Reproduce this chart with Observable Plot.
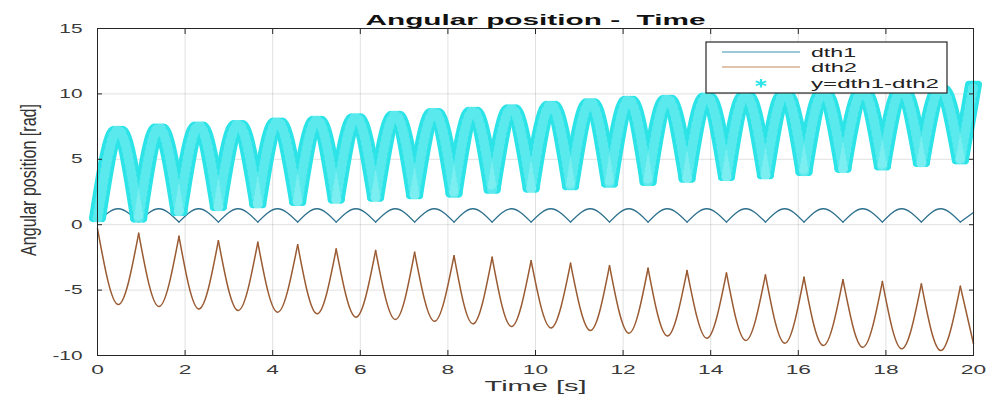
<!DOCTYPE html>
<html><head><meta charset="utf-8">
<script src="https://cdn.jsdelivr.net/npm/d3@7"></script>
<script src="https://cdn.jsdelivr.net/npm/@observablehq/plot@0.6"></script>
<style>html,body{margin:0;padding:0;background:#fff;} #chart svg{display:block}</style>
</head><body><div id="chart"></div>
<script>
// ---- data ----
const titleText = "Angular position -  Time";
const xLabelText = "Time [s]";
const yLabelText = "Angular position [rad]";
const seriesNames = ["dth1", "dth2", "y=dth1-dth2"];
const xTicks = [0, 2, 4, 6, 8, 10, 12, 14, 16, 18, 20];
const yTicks = [-10, -5, 0, 5, 10, 15];

// times of the cusps (dth2 peaks / dth1 minima) and of the mid-cycle extrema
const cuspT = [0, 0.94, 1.86, 2.76, 3.66, 4.57, 5.45, 6.35, 7.24, 8.14, 9.01, 9.90, 10.80, 11.69, 12.57, 13.46, 14.36, 15.25, 16.13, 17.02, 17.92, 18.81, 19.70];
const midT = [0.47, 1.40, 2.31, 3.21, 4.11, 5.01, 5.90, 6.80, 7.69, 8.57, 9.45, 10.35, 11.25, 12.13, 13.01, 13.91, 14.80, 15.69, 16.57, 17.47, 18.36, 19.25];
const tEnd = 20;

// dth1: values at cusps and at arc tops
const dth1Cusp = [0.2, 0.2, 0.2, 0.2, 0.2, 0.2, 0.2, 0.2, 0.2, 0.2, 0.2, 0.2, 0.2, 0.2, 0.2, 0.2, 0.2, 0.2, 0.2, 0.2, 0.2, 0.2, 0.2];
const dth1Top = [1.22, 1.22, 1.22, 1.22, 1.22, 1.22, 1.22, 1.22, 1.22, 1.22, 1.22, 1.22, 1.22, 1.22, 1.22, 1.22, 1.22, 1.22, 1.22, 1.22, 1.22, 1.22];
const dth1End = 0.94;

// dth2: peaks at cusps and troughs mid-cycle
const dth2Peak = [-0.3, -0.66, -0.89, -1.22, -1.35, -1.53, -1.86, -1.98, -2.11, -2.37, -2.49, -2.75, -2.95, -3.13, -3.33, -3.51, -3.69, -3.84, -4.02, -4.20, -4.35, -4.53, -4.71];
const dth2Trough = [-6.10, -6.26, -6.44, -6.56, -6.69, -6.81, -7.07, -7.25, -7.38, -7.58, -7.79, -7.89, -8.09, -8.29, -8.50, -8.68, -8.85, -9.06, -9.24, -9.37, -9.49, -9.62];
const dth2End = -9.1;

// y = dth1 - dth2: lows at cusps and highs mid-cycle
const yLow = [0.5, 0.48, 0.99, 1.37, 1.57, 1.75, 1.93, 2.08, 2.26, 2.39, 2.69, 2.77, 2.95, 3.15, 3.28, 3.53, 3.66, 3.79, 4.04, 4.29, 4.47, 4.73, 4.93];
const yHigh = [7.26, 7.43, 7.59, 7.69, 7.89, 8.02, 8.22, 8.40, 8.61, 8.71, 8.91, 9.17, 9.37, 9.55, 9.62, 9.80, 9.90, 10.0, 10.1, 10.2, 10.3, 10.4];
const yEnd = 10.7;

// build arc rows (one arc per cycle, cusp -> extremum -> cusp)
function arcs(cVals, mVals, endVal) {
  const rows = [];
  for (let k = 0; k < midT.length; k++) {
    rows.push({t: cuspT[k], v: cVals[k], seg: k});
    rows.push({t: midT[k], v: mVals[k], seg: k});
    rows.push({t: cuspT[k + 1], v: cVals[k + 1], seg: k});
  }
  const last = cuspT.length - 1;
  rows.push({t: cuspT[last], v: cVals[last], seg: last});
  rows.push({t: tEnd, v: endVal, seg: last});
  return rows;
}
const d1 = arcs(dth1Cusp, dth1Top, dth1End);
const d2 = arcs(dth2Peak, dth2Trough, dth2End);
const dy = arcs(yLow, yHigh, yEnd);

const C1 = "#2c6f8c", C2 = "#9a5a32", C3 = "#2ce4e8";
const FONT = "'Liberation Sans', Arial, Helvetica, sans-serif";

const chart = Plot.plot({
  width: 996, height: 400,
  marginLeft: 97, marginRight: 23, marginTop: 28, marginBottom: 45,
  style: {fontFamily: FONT, background: "#fff"},
  x: {domain: [0, 20], label: null},
  y: {domain: [-10, 15], label: null},
  marks: [
    Plot.gridX(xTicks, {stroke: "#000", strokeOpacity: 0.12}),
    Plot.gridY(yTicks, {stroke: "#000", strokeOpacity: 0.12}),
    Plot.line(d1, {x: "t", y: "v", z: "seg", curve: "natural", stroke: C1, strokeWidth: 1.3}),
    Plot.line(d2, {x: "t", y: "v", z: "seg", curve: "natural", stroke: C2, strokeWidth: 1.5}),
    ...[-4.5, -1.5, 1.5, 4.5].map(dx => Plot.line(dy, {x: "t", y: "v", z: "seg", curve: "natural", stroke: C3, strokeWidth: 8, strokeLinecap: "round", strokeLinejoin: "round", dx})),
    Plot.line(dy, {x: "t", y: "v", z: "seg", curve: "natural", stroke: "#c8f8f8", strokeWidth: 10, strokeDasharray: "1 5", strokeOpacity: 0.3}),
    Plot.frame({stroke: "#262626", strokeWidth: 1}),
    Plot.axisX(xTicks, {anchor: "bottom", tickSize: -5, tickFormat: () => "", stroke: "#262626"}),
    Plot.axisX(xTicks, {anchor: "top", tickSize: -5, tickFormat: () => "", stroke: "#262626"}),
    Plot.axisY(yTicks, {anchor: "left", tickSize: -5, tickFormat: () => "", stroke: "#262626"}),
    Plot.axisY(yTicks, {anchor: "right", tickSize: -5, tickFormat: () => "", stroke: "#262626"}),
    Plot.axisX(xTicks, {anchor: "bottom", tickSize: 0, tickPadding: 9, fontSize: 13, fill: "#3a3a3a", tickFormat: d => String(d)}),
    Plot.axisY(yTicks, {anchor: "left", tickSize: 0, tickPadding: 15, fontSize: 13, fill: "#3a3a3a", tickFormat: d => String(d)}),
    Plot.text([titleText], {frameAnchor: "top", dy: -15, fontWeight: "bold", fontSize: 15.5, fill: "#111"}),
    Plot.text([xLabelText], {frameAnchor: "bottom", dy: 35, fontSize: 15, fill: "#333"}),
    Plot.text([yLabelText], {frameAnchor: "left", textAnchor: "middle", rotate: -90, dx: -69, dy: -12, fontSize: 22, fill: "#333"})
  ]
});
document.getElementById("chart").append(chart);

const svg = d3.select(chart);
function stretch(nodes, factor, width) {
  nodes.forEach(node => {
    const w = width != null ? width : node.getComputedTextLength() * factor;
    if (!(w > 0)) return;
    node.setAttribute("textLength", w);
    node.setAttribute("lengthAdjust", "spacingAndGlyphs");
  });
}
const allText = Array.from(chart.querySelectorAll("text"));
const inGroup = (n, label) => n.closest(`g[aria-label="${label}"]`) && n.textContent !== "";
stretch(allText.filter(n => inGroup(n, "x-axis tick label")), 1.75);
stretch(allText.filter(n => inGroup(n, "y-axis tick label")), 1.6);
stretch(allText.filter(n => n.textContent === titleText), null, 340);
stretch(allText.filter(n => n.textContent === xLabelText), null, 102);
allText.filter(n => n.textContent === titleText).forEach(n => n.style.whiteSpace = "pre");
// y label: compress along its length with a scale (keeps it centred)
allText.filter(n => n.textContent === yLabelText).forEach(n => {
  const s = 152 / n.getComputedTextLength();
  const tr = n.getAttribute("transform") || "";
  n.setAttribute("transform", `${tr} scale(${s},1)`);
});

// legend
const lg = svg.append("g").attr("transform", "translate(706,42)").attr("font-family", FONT).attr("font-size", 13).attr("text-anchor", "start");
lg.append("rect").attr("width", 241).attr("height", 51).attr("fill", "#fff").attr("stroke", "#262626").attr("stroke-width", 1.2);
const rowsY = [10, 25, 41.3];
lg.append("line").attr("x1", 16).attr("x2", 94).attr("y1", rowsY[0]).attr("y2", rowsY[0]).attr("stroke", "#3a8fb0").attr("stroke-width", 1.2);
lg.append("line").attr("x1", 16).attr("x2", 94).attr("y1", rowsY[1]).attr("y2", rowsY[1]).attr("stroke", "#c08858").attr("stroke-width", 1.2);
lg.append("path").attr("d", d3.symbol(d3.symbolAsterisk, 50)()).attr("transform", `translate(55,${rowsY[2]}) scale(1.4,1)`).attr("stroke", C3).attr("stroke-width", 1.6).attr("fill", "none");
const widths = [45, 46, 128];
seriesNames.forEach((s, i) => {
  lg.append("text").attr("x", 105).attr("y", rowsY[i]).attr("dy", "0.35em").attr("fill", "#222").text(s)
    .attr("textLength", widths[i]).attr("lengthAdjust", "spacingAndGlyphs");
});
</script>
</body></html>
